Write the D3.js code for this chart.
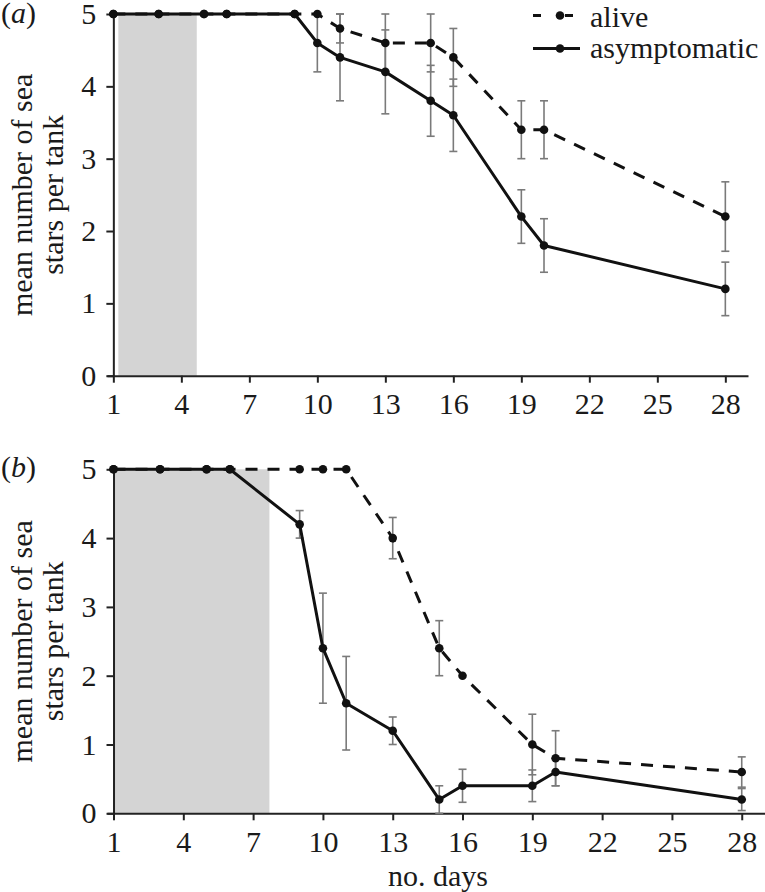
<!DOCTYPE html>
<html>
<head>
<meta charset="utf-8">
<script src="https://cdn.jsdelivr.net/npm/d3@7"></script>
<style>
  html, body { margin: 0; padding: 0; background: #fff; }
  svg { display: block; }
  text { font-family: "Liberation Serif", "Times New Roman", serif; fill: #1a1a1a; }
</style>
</head>
<body>
<svg id="chart" width="765" height="892"></svg>
<script>
// ---- data ----
const days = [1, 3, 5, 6, 9, 10, 11, 13, 15, 16, 19, 20, 28];
const xTicks = [1, 4, 7, 10, 13, 16, 19, 22, 25, 28];
const yTicks = [0, 1, 2, 3, 4, 5];

const aliveA    = [5, 5, 5, 5, 5, 5, 4.8, 4.6, 4.6, 4.4, 3.4, 3.4, 2.2];
const aliveErrA = [0, 0, 0, 0, 0, 0, 0.2, 0.4, 0.4, 0.4, 0.4, 0.4, 0.48];
const asymA     = [5, 5, 5, 5, 5, 4.6, 4.4, 4.2, 3.8, 3.6, 2.2, 1.8, 1.2];
const asymErrA  = [0, 0, 0, 0, 0, 0.4, 0.6, 0.58, 0.49, 0.5, 0.37, 0.37, 0.37];
const shadeA    = [1.22, 4.68];

const aliveB    = [5, 5, 5, 5, 5, 5, 5, 4.0, 2.4, 2.0, 1.0, 0.8, 0.6];
const aliveErrB = [0, 0, 0, 0, 0, 0, 0, 0.3, 0.4, 0, 0.44, 0.4, 0.22];
const asymB     = [5, 5, 5, 5, 4.2, 2.4, 1.6, 1.2, 0.2, 0.4, 0.4, 0.6, 0.2];
const asymErrB  = [0, 0, 0, 0, 0.2, 0.8, 0.68, 0.2, 0.2, 0.24, 0.23, 0.2, 0.16];
const shadeB    = [1, 7.7];

const seriesNames = ["alive", "asymptomatic"];
const panelLabels = ["a", "b"];
const yLabelLines = ["mean number of sea", "stars per tank"];
const xLabel = "no. days";

// ---- drawing ----
const svg = d3.select("#chart");
const FS = 30;

function panel(cfg) {
  const x = d3.scaleLinear().domain([0.72, 29]).range([107, cfg.right]);
  const y = d3.scaleLinear().domain([0, 5]).range([cfg.bottom, cfg.top]);
  const g = svg.append("g");

  // shaded region
  g.append("rect")
    .attr("x", x(cfg.shade[0]))
    .attr("y", y(5))
    .attr("width", x(cfg.shade[1]) - x(cfg.shade[0]))
    .attr("height", y(0) - y(5))
    .attr("fill", "#d4d4d4");

  // x axis
  const xa = g.append("g")
    .attr("transform", `translate(0,${y(0)})`)
    .call(d3.axisBottom(x).tickValues(xTicks).tickSizeInner(7).tickSizeOuter(0).tickPadding(10));
  // y axis
  const ya = g.append("g")
    .attr("transform", `translate(${x(1)},0)`)
    .call(d3.axisLeft(y).tickValues(yTicks).tickSizeInner(7).tickSizeOuter(0).tickPadding(10).tickFormat(d3.format("d")));
  [xa, ya].forEach(a => {
    a.select(".domain").attr("stroke", "#222").attr("stroke-width", 2);
    a.selectAll(".tick line").attr("stroke", "#222").attr("stroke-width", 2);
    a.selectAll(".tick text").attr("font-size", FS).attr("fill", "#1a1a1a")
      .style("font-family", '"Liberation Serif", serif');
  });

  // error bars
  const errG = g.append("g").attr("stroke", "#7a7a7a").attr("stroke-width", 1.6);
  [[cfg.alive, cfg.aliveErr], [cfg.asym, cfg.asymErr]].forEach(([vals, errs]) => {
    days.forEach((d, i) => {
      const e = errs[i];
      if (!e) return;
      const cx = x(d), y1 = y(vals[i] + e), y2 = y(Math.max(0, vals[i] - e));
      errG.append("line").attr("x1", cx).attr("x2", cx).attr("y1", y1).attr("y2", y2);
      errG.append("line").attr("x1", cx - 4).attr("x2", cx + 4).attr("y1", y1).attr("y2", y1);
      errG.append("line").attr("x1", cx - 4).attr("x2", cx + 4).attr("y1", y2).attr("y2", y2);
    });
  });

  const line = d3.line().x((v, i) => x(days[i])).y(v => y(v));
  g.append("path").datum(cfg.alive).attr("d", line)
    .attr("fill", "none").attr("stroke", "#111").attr("stroke-width", 3)
    .attr("stroke-dasharray", "12,10");
  g.append("path").datum(cfg.asym).attr("d", line)
    .attr("fill", "none").attr("stroke", "#111").attr("stroke-width", 3)
    .attr("stroke-linejoin", "round");

  [cfg.alive, cfg.asym].forEach(vals => {
    g.selectAll(null).data(vals).enter().append("circle")
      .attr("cx", (v, i) => x(days[i])).attr("cy", v => y(v))
      .attr("r", 4.3).attr("fill", "#111");
  });

  // panel label
  const pl = g.append("text").attr("x", 1).attr("y", cfg.labelY).attr("font-size", FS);
  pl.append("tspan").text("(");
  pl.append("tspan").attr("font-style", "italic").text(cfg.label);
  pl.append("tspan").text(")");

  // y label
  const cy = (y(0) + y(5)) / 2;
  const yl = g.append("text")
    .attr("transform", `translate(0,${cy}) rotate(-90)`)
    .attr("text-anchor", "middle").attr("font-size", FS);
  yl.append("tspan").attr("x", 0).attr("y", 32).text(yLabelLines[0]);
  yl.append("tspan").attr("x", 0).attr("y", 63).text(yLabelLines[1]);

  return { x, y, g };
}

const pa = panel({ right: 748, top: 14, bottom: 375.7, shade: shadeA,
  alive: aliveA, aliveErr: aliveErrA, asym: asymA, asymErr: asymErrA,
  label: panelLabels[0], labelY: 22.5 });
const pb = panel({ right: 765, top: 469.3, bottom: 813.3, shade: shadeB,
  alive: aliveB, aliveErr: aliveErrB, asym: asymB, asymErr: asymErrB,
  label: panelLabels[1], labelY: 477 });

// x label
svg.append("text").attr("x", 438).attr("y", 886).attr("text-anchor", "middle")
  .attr("font-size", FS).text(xLabel);

// legend
const lg = svg.append("g");
lg.append("line").attr("x1", 533).attr("x2", 573).attr("y1", 15.5).attr("y2", 15.5)
  .attr("stroke", "#111").attr("stroke-width", 3).attr("stroke-dasharray", "8,24");
lg.append("circle").attr("cx", 560).attr("cy", 15.5).attr("r", 4.3).attr("fill", "#111");
lg.append("line").attr("x1", 533).attr("x2", 580).attr("y1", 48.5).attr("y2", 48.5)
  .attr("stroke", "#111").attr("stroke-width", 3);
lg.append("circle").attr("cx", 560).attr("cy", 48.5).attr("r", 4.3).attr("fill", "#111");
lg.append("text").attr("x", 590).attr("y", 26.5).attr("font-size", FS).text(seriesNames[0]);
lg.append("text").attr("x", 590).attr("y", 58).attr("font-size", FS).text(seriesNames[1]);
</script>
</body>
</html>
